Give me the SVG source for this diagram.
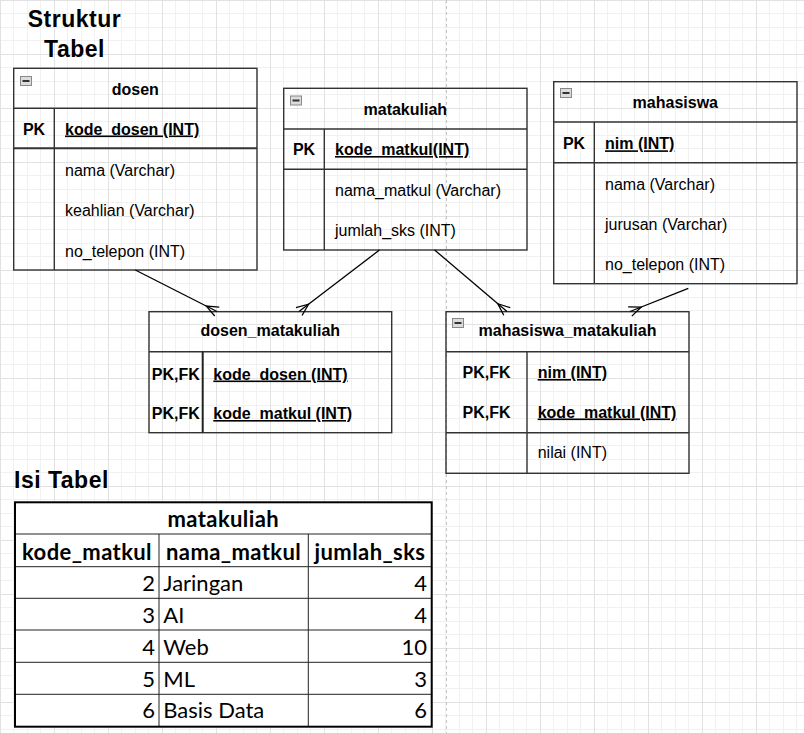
<svg xmlns="http://www.w3.org/2000/svg" width="804" height="733" viewBox="0 0 804 733">
<style>
.t{font-family:"Liberation Sans",Arial,sans-serif;font-size:16px;fill:#000}
.b{font-weight:bold}
.c{text-anchor:middle}
.u{text-decoration:underline}
.big{font-family:"Liberation Sans",Arial,sans-serif;font-size:23px;font-weight:bold;fill:#000;letter-spacing:0.5px}
.box{fill:none;stroke:#333;stroke-width:1.4}
.ln{stroke:#333;stroke-width:1.4;fill:none}
.ico{fill:#dcdcdc;stroke:#888;stroke-width:1}
.icm{stroke:#333;stroke-width:2}
.conn{stroke:#000;stroke-width:1.3;fill:none}
.x{font-family:Lato,"Noto Sans",sans-serif;font-size:22px;fill:#000}
.xb{font-weight:bold;letter-spacing:0.4px}
.xl{stroke:#222;stroke-width:1;fill:none}
</style>
<defs>
<pattern id="grid" width="54" height="54" patternUnits="userSpaceOnUse">
<path d="M13.5 0V54M27.5 0V54M40.5 0V54M0 13.5H54M0 27.5H54M0 40.5H54" stroke="#f1f1f1" stroke-width="1"/>
<path d="M0.5 0V54M0 0.5H54" stroke="#e2e2e2" stroke-width="1"/>
</pattern>
<marker id="many" markerUnits="userSpaceOnUse" markerWidth="30" markerHeight="30" refX="0" refY="0" orient="auto" overflow="visible">
<path d="M0 -5L-12 0L0 5" fill="none" stroke="#000" stroke-width="1.3"/>
</marker>
</defs>
<rect width="804" height="733" fill="#fff"/>
<rect width="804" height="733" fill="url(#grid)"/>
<line x1="446.5" y1="0" x2="446.5" y2="733" stroke="#c4c4c4" stroke-width="1" stroke-dasharray="3 3"/>

<g id="title">
<text class="big c" x="74.5" y="26.5">Struktur</text>
<text class="big c" x="74.5" y="56.5">Tabel</text>
</g>

<g id="dosen">
<rect class="box" x="13.7" y="68.3" width="243.3" height="201.7"/>
<path class="ln" d="M13.7 108.3H257M54.3 108.3V270"/>
<path d="M13.7 148.3H257" stroke="#333" stroke-width="2"/>
<rect class="ico" x="20.5" y="76.5" width="11" height="9"/>
<path class="icm" d="M22.5 81H29.5"/>
<text class="t b c" x="135.3" y="95">dosen</text>
<text class="t b c" x="34" y="134.5">PK</text>
<text class="t b u" x="65" y="134.5">kode_dosen (INT)</text>
<text class="t" x="65" y="175.7">nama (Varchar)</text>
<text class="t" x="65" y="216">keahlian (Varchar)</text>
<text class="t" x="65" y="256.5">no_telepon (INT)</text>
</g>

<g id="matakuliah">
<rect class="box" x="283.7" y="88.3" width="243.3" height="161.7"/>
<path class="ln" d="M283.7 129H527M283.7 169.3H527M324.3 129V250"/>
<rect class="ico" x="290.5" y="96" width="11" height="9"/>
<path class="icm" d="M292.5 100.5H299.5"/>
<text class="t b c" x="405.3" y="114.5">matakuliah</text>
<text class="t b c" x="304" y="155">PK</text>
<text class="t b u" x="335" y="155">kode_matkul(INT)</text>
<text class="t" x="335" y="195.5">nama_matkul (Varchar)</text>
<text class="t" x="335" y="235.5">jumlah_sks (INT)</text>
</g>

<g id="mahasiswa">
<rect class="box" x="553.7" y="81.7" width="243.3" height="202"/>
<path class="ln" d="M553.7 122H797M553.7 162.7H797M594.3 122V283.7"/>
<rect class="ico" x="560.5" y="88.5" width="11" height="9"/>
<path class="icm" d="M562.5 93H569.5"/>
<text class="t b c" x="675.3" y="108">mahasiswa</text>
<text class="t b c" x="574" y="149.3">PK</text>
<text class="t b u" x="605" y="149.3">nim (INT)</text>
<text class="t" x="605" y="189.5">nama (Varchar)</text>
<text class="t" x="605" y="229.8">jurusan (Varchar)</text>
<text class="t" x="605" y="270">no_telepon (INT)</text>
</g>

<g id="dosen_matakuliah">
<rect class="box" x="149" y="311.7" width="242.7" height="121"/>
<path class="ln" d="M149 351.7H391.7"/>
<path d="M202.7 351.7V432.7" stroke="#222" stroke-width="2"/>
<text class="t b c" x="270.3" y="336">dosen_matakuliah</text>
<text class="t b c" x="175.8" y="379.5">PK,FK</text>
<text class="t b u" x="213.3" y="379.5">kode_dosen (INT)</text>
<text class="t b c" x="175.8" y="419">PK,FK</text>
<text class="t b u" x="213.3" y="419">kode_matkul (INT)</text>
</g>

<g id="mahasiswa_matakuliah">
<rect class="box" x="446" y="311.7" width="243" height="161.6"/>
<path class="ln" d="M446 351.7H689M446 432.7H689M527 351.7V473.3"/>
<rect class="ico" x="452.5" y="318.5" width="11" height="9"/>
<path class="icm" d="M454.5 323H461.5"/>
<text class="t b c" x="567.5" y="336">mahasiswa_matakuliah</text>
<text class="t b c" x="486.5" y="378">PK,FK</text>
<text class="t b u" x="537.7" y="378">nim (INT)</text>
<text class="t b c" x="486.5" y="417.5">PK,FK</text>
<text class="t b u" x="537.7" y="417.5">kode_matkul (INT)</text>
<text class="t" x="537.7" y="457.5">nilai (INT)</text>
</g>

<g id="connectors">
<line class="conn" x1="135.3" y1="270" x2="217" y2="311.5" marker-end="url(#many)"/>
<line class="conn" x1="379.5" y1="250" x2="299" y2="311.5" marker-end="url(#many)"/>
<line class="conn" x1="434.6" y1="250" x2="507" y2="311.5" marker-end="url(#many)"/>
<line class="conn" x1="688.3" y1="288.3" x2="630" y2="311.5" marker-end="url(#many)"/>
</g>

<g id="isi_tabel">
<text class="big" x="14" y="488.3">Isi Tabel</text>
<rect x="15" y="502.3" width="416.7" height="224.4" fill="#fff"/>
<path class="xl" d="M15 534H431.7M15 566.7H431.7M15 598.3H431.7M15 630H431.7M15 662.3H431.7M15 694.3H431.7M159 534V726.7M308.3 534V726.7"/>
<rect x="15" y="502.3" width="416.7" height="224.4" fill="none" stroke="#000" stroke-width="2"/>
<text class="x xb c" x="223.3" y="526.7">matakuliah</text>
<text class="x xb c" x="87" y="560">kode_matkul</text>
<text class="x xb c" x="233.6" y="560">nama_matkul</text>
<text class="x xb c" x="370" y="560">jumlah_sks</text>
<g class="x" text-anchor="end">
<text x="155" y="591">2</text>
<text x="155" y="623.3">3</text>
<text x="155" y="655">4</text>
<text x="155" y="686.7">5</text>
<text x="155" y="718.3">6</text>
<text x="427" y="591">4</text>
<text x="427" y="623.3">4</text>
<text x="427" y="655">10</text>
<text x="427" y="686.7">3</text>
<text x="427" y="718.3">6</text>
</g>
<g class="x">
<text x="163.3" y="591">Jaringan</text>
<text x="163.3" y="623.3">AI</text>
<text x="163.3" y="655">Web</text>
<text x="163.3" y="686.7">ML</text>
<text x="163.3" y="718.3">Basis Data</text>
</g>
</g>
</svg>
